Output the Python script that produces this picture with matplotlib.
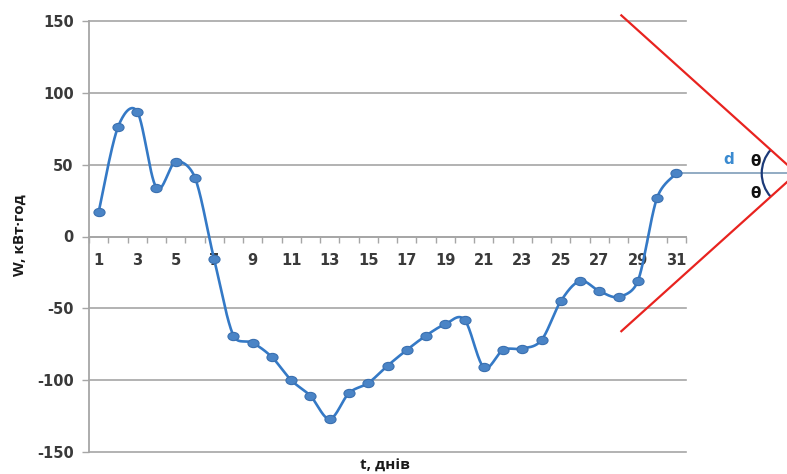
import numpy as np
import matplotlib
matplotlib.use("Agg")
import matplotlib.pyplot as plt
from matplotlib.path import Path
from matplotlib.patches import Arc
from matplotlib.lines import Line2D
from matplotlib.transforms import IdentityTransform

plt.rcParams["axes.unicode_minus"] = False

# Daily energy balance over one month
days = list(range(1, 32))
energy = [17, 76, 87, 34, 52, 41, -16, -69, -74, -84,
          -100, -111, -127, -109, -102, -90, -79, -69, -61, -58,
          -91, -79, -78, -72, -45, -31, -38, -42, -31, 27, 44]
y_ticks = [-150, -100, -50, 0, 50, 100, 150]
x_labels = [str(d) for d in days if d % 2 == 1]

xlabel = "t, днів"
ylabel = "W, кВт·год"

LINE_BLUE = "#3479c6"
GRID = "#a6a6a6"
TICK_TXT = "#3a3a3a"

W, H, DPI = 787, 474, 100
fig = plt.figure(figsize=(W / DPI, H / DPI), dpi=DPI)
ax = fig.add_axes([89 / W, 22 / H, 597 / W, 431 / H])
ax.set_xlim(0.5, 31.5)
ax.set_ylim(-150, 150)


def smooth_curve(x, y, sx, sy, n=30):
    """Bezier smoothing through every point; tangents are computed on
    screen scale and each handle is kept within half of its segment."""
    P = np.column_stack([np.asarray(x, float) * sx, np.asarray(y, float) * sy])
    t = np.linspace(0, 1, n)[:, None]
    out = []
    for i in range(len(P) - 1):
        p0 = P[i - 1] if i > 0 else P[i]
        p1, p2 = P[i], P[i + 1]
        p3 = P[i + 2] if i + 2 < len(P) else P[i + 1]
        seg_len = np.hypot(*(p2 - p1))
        d1 = p2 - p0
        d2 = p3 - p1
        f1 = 1 / 6
        f2 = 1 / 6
        n1 = np.hypot(*d1)
        n2 = np.hypot(*d2)
        if n1 * f1 > seg_len / 2:
            f1 = seg_len / 2 / n1
        if n2 * f2 > seg_len / 2:
            f2 = seg_len / 2 / n2
        c1 = p1 + d1 * f1
        c2 = p2 - d2 * f2
        seg = ((1 - t) ** 3) * p1 + 3 * ((1 - t) ** 2) * t * c1 \
            + 3 * (1 - t) * t ** 2 * c2 + t ** 3 * p2
        out.append(seg if i == 0 else seg[1:])
    S = np.vstack(out)
    return S[:, 0] / sx, S[:, 1] / sy


# screen scale of one data unit along each axis
fig.canvas.draw()
o = ax.transData.transform((0, 0))
px_x = ax.transData.transform((1, 0))[0] - o[0]
px_y = ax.transData.transform((0, 1))[1] - o[1]

cx, cy = smooth_curve(days, energy, px_x, px_y)
ax.plot(cx, cy, color=LINE_BLUE, lw=1.9, zorder=3, solid_capstyle="round")

circ = Path.unit_circle()
ellipse = Path(circ.vertices * np.array([1.35, 1.0]), circ.codes)
ax.plot(days, energy, linestyle="none", marker=ellipse, markersize=8,
        markerfacecolor="#4a84c6", markeredgecolor="#3a70b0",
        markeredgewidth=0.8, zorder=4)

# y axis
ax.set_yticks(y_ticks)
ax.yaxis.grid(True, color=GRID, lw=1.2)
for gl in ax.get_ygridlines():
    gl.set_clip_on(False)
ax.tick_params(axis="y", direction="out", length=5, width=1, color=GRID,
               pad=6, labelsize=10.5, labelcolor=TICK_TXT)

# x axis crossing at zero, ticks between categories
ax.spines["bottom"].set_position(("data", 0))
ax.set_xticks(np.arange(0.5, 32, 1.0))
ax.set_xticklabels([])
ax.set_xticks([d for d in days if d % 2 == 1], minor=True)
ax.set_xticklabels(x_labels, minor=True)
ax.tick_params(axis="x", which="major", direction="out", length=4.5,
               width=1, color=GRID)
ax.tick_params(axis="x", which="minor", length=0, pad=12, labelsize=10.5,
               labelcolor=TICK_TXT)

for lab in ax.get_yticklabels() + ax.get_xticklabels(minor=True):
    lab.set_fontweight("bold")

for s in ("top", "right"):
    ax.spines[s].set_visible(False)
for s in ("left", "bottom"):
    ax.spines[s].set_color(GRID)
    ax.spines[s].set_linewidth(1.3)

title_font = ["Open Sans", "DejaVu Sans"]
fig.text(385 / W, 1 - 466 / H, xlabel, ha="center", va="center",
         fontsize=11, fontweight="bold", family=title_font, color="#1a1a1a")
fig.text(20 / W, 1 - 235 / H, ylabel, ha="center", va="center",
         rotation=90, fontsize=11, fontweight="bold", family=title_font,
         color="#1a1a1a")

# Reflection geometry: level line from the last point, two rays at angle theta
theta = 42.0
apex_x = 37.25
apex = ax.transData.transform((apex_x, energy[-1]))
ray_len = 236.0
ident = IdentityTransform()

ax.plot([days[-1], apex_x], [energy[-1], energy[-1]], color="#7f9db9",
        lw=1.2, clip_on=False, zorder=2)

for sign in (1, -1):
    end = apex + ray_len * np.array([-np.cos(np.radians(theta)),
                                     sign * np.sin(np.radians(theta))])
    fig.add_artist(Line2D([apex[0], end[0]], [apex[1], end[1]],
                          color="#e8231f", lw=1.6, transform=ident))

fig.add_artist(Arc(apex, 70, 70, theta1=180 - theta, theta2=180 + theta,
                   color="#1c3a78", lw=1.6, transform=ident))

fig.text(729 / W, 1 - 160 / H, "d", ha="center", va="center", fontsize=11,
         fontweight="bold", color="#3a8ad0")
fig.text(756 / W, 1 - 161 / H, "θ", ha="center", va="center", fontsize=11,
         fontweight="bold", color="#111111")
fig.text(756 / W, 1 - 193 / H, "θ", ha="center", va="center", fontsize=11,
         fontweight="bold", color="#111111")

fig.savefig("out.png", dpi=DPI)
